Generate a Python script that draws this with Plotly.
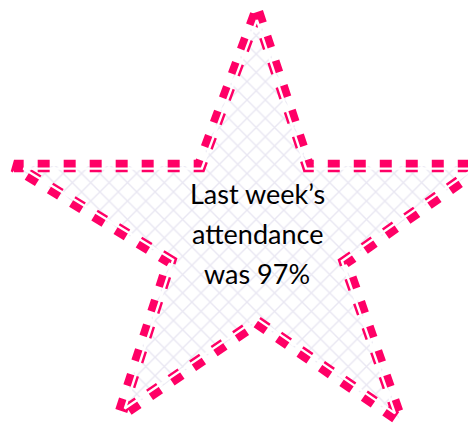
import plotly.graph_objects as go
import numpy as np

# Star outline vertices (pixel space of the picture), clockwise from the top point
star_x = [257, 308, 482, 345, 400, 257, 120, 170, 14, 200]
star_y = [12, 166, 166, 262, 420, 322, 415, 261, 166, 166]

text_lines = ["Last week’s", "attendance", "was 97%"]
text_y = [193, 233, 273]
text_x = 257

PINK = "#FF0066"
HATCH = "#D4D0E6"

# the page body adds an 8px margin, so the figure is shifted; compensate in the axis ranges
OFF = 8


def inset(xs, ys, d):
    """Offset a closed polygon inward by d."""
    n = len(xs)
    P = np.array([xs, ys], dtype=float).T
    area = 0.5 * np.sum(P[:, 0] * np.roll(P[:, 1], -1) - np.roll(P[:, 0], -1) * P[:, 1])
    sgn = 1.0 if area > 0 else -1.0
    lines = []
    for i in range(n):
        a, b = P[i], P[(i + 1) % n]
        t = (b - a) / np.linalg.norm(b - a)
        nrm = np.array([-t[1], t[0]]) * sgn
        lines.append((a + nrm * d, t))
    out = []
    for i in range(n):
        p1, t1 = lines[i - 1]
        p2, t2 = lines[i]
        A = np.array([t1, -t2]).T
        s = np.linalg.solve(A, p2 - p1)
        out.append(p1 + t1 * s[0])
    out = np.array(out)
    return list(out[:, 0]), list(out[:, 1])


cx = star_x + [star_x[0]]
cy = star_y + [star_y[0]]
ix, iy = inset(star_x, star_y, 2.6)
ix = ix + [ix[0]]
iy = iy + [iy[0]]

fig = go.Figure()
fig.add_trace(go.Scatter(
    x=cx, y=cy, mode="lines", fill="toself",
    fillcolor="white",
    fillpattern=dict(shape="x", size=13, solidity=0.2, fgcolor=HATCH, bgcolor="white"),
    line=dict(color=PINK, width=12.5, dash="12px,14px"),
    hoverinfo="skip", showlegend=False,
))
fig.add_trace(go.Scatter(
    x=ix, y=iy, mode="lines",
    line=dict(color="white", width=2.4),
    hoverinfo="skip", showlegend=False,
))

for t, y in zip(text_lines, text_y):
    fig.add_annotation(x=text_x, y=y, text=t, showarrow=False,
                       xanchor="center", yanchor="middle",
                       font=dict(family="Lato", size=27, color="black"))

fig.update_layout(
    width=476, height=435, autosize=False,
    margin=dict(l=0, r=0, t=0, b=0),
    paper_bgcolor="white", plot_bgcolor="white",
    xaxis=dict(range=[OFF, 476 + OFF], visible=False, fixedrange=True),
    yaxis=dict(range=[435 + OFF, OFF], visible=False, fixedrange=True),
)
fig.write_html("out.html")
